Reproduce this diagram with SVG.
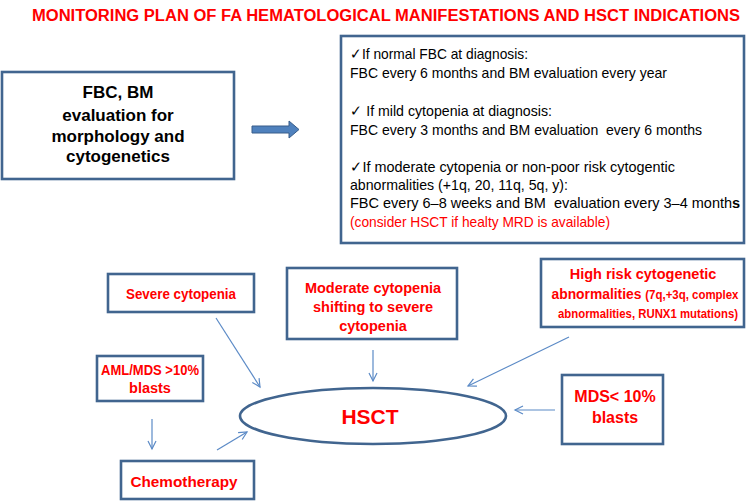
<svg xmlns="http://www.w3.org/2000/svg" width="750" height="501" viewBox="0 0 750 501">
<defs>
<marker id="ah" markerUnits="userSpaceOnUse" markerWidth="12" markerHeight="12" refX="9" refY="5" orient="auto">
<path d="M1,1 L9,5 L1,9" fill="none" stroke="#5b8ac6" stroke-width="1.2"/>
</marker>
</defs>
<style>
text{font-family:"Liberation Sans",Arial,sans-serif}
.box{fill:#fff;stroke:#41658f;stroke-width:2.6}
.red{fill:#ff0000;font-weight:bold}
.blk{fill:#000;font-weight:bold}
.body{fill:#000;font-size:15px}
.con{stroke:#5b8ac6;stroke-width:1.2;fill:none;marker-end:url(#ah)}
</style>
<rect width="750" height="501" fill="#fff"/>
<text x="32" y="21" class="red" font-size="16" textLength="708" lengthAdjust="spacingAndGlyphs">MONITORING PLAN OF FA HEMATOLOGICAL MANIFESTATIONS AND HSCT INDICATIONS</text>

<g id="n-eval">
<rect class="box" x="2" y="72" width="232" height="107"/>
<text class="blk" font-size="17" text-anchor="middle"><tspan x="118" y="98">FBC, BM</tspan><tspan x="118" y="121">evaluation for</tspan><tspan x="118" y="142">morphology and</tspan><tspan x="118" y="162">cytogenetics</tspan></text>
</g>

<g id="n-arrow">
<path d="M252,126 L289,126 L289,121 L299,129.5 L289,138 L289,133 L252,133 Z" fill="#4f81bd" stroke="#385d8a" stroke-width="1"/>
</g>

<g id="n-plan">
<rect class="box" x="341" y="36" width="403" height="207"/>
<text class="body" x="350" y="59" textLength="178" lengthAdjust="spacingAndGlyphs">✓If normal FBC at diagnosis:</text>
<text class="body" x="350" y="78" textLength="317" lengthAdjust="spacingAndGlyphs">FBC every 6 months and BM evaluation every year</text>
<text class="body" x="350" y="116" textLength="202" lengthAdjust="spacingAndGlyphs">✓ If mild cytopenia at diagnosis:</text>
<text class="body" x="350" y="135" textLength="352" lengthAdjust="spacingAndGlyphs" xml:space="preserve">FBC every 3 months and BM evaluation  every 6 months</text>
<text class="body" x="350" y="172" textLength="325" lengthAdjust="spacingAndGlyphs">✓If moderate cytopenia or non-poor risk cytogentic</text>
<text class="body" x="350" y="190" textLength="218" lengthAdjust="spacingAndGlyphs">abnormalities (+1q, 20, 11q, 5q, y):</text>
<text class="body" x="350" y="208" style="font-size:14.5px" xml:space="preserve">FBC every 6–8 weeks and BM  evaluation every 3–4 month<tspan font-weight="bold">s</tspan></text>
<text class="body" x="350" y="227" style="fill:#ff0000" textLength="260" lengthAdjust="spacingAndGlyphs">(consider HSCT if healty MRD is available)</text>
</g>

<g id="n-severe">
<rect class="box" x="108" y="274" width="146" height="38"/>
<text class="red" font-size="14.5" x="181" y="299" text-anchor="middle" textLength="110" lengthAdjust="spacingAndGlyphs">Severe cytopenia</text>
</g>

<g id="n-moderate">
<rect class="box" x="287" y="268" width="170" height="71"/>
<text class="red" font-size="14.5" text-anchor="middle"><tspan x="373" y="293">Moderate cytopenia</tspan><tspan x="373" y="312">shifting to severe</tspan><tspan x="373" y="331">cytopenia</tspan></text>
</g>

<g id="n-highrisk">
<rect class="box" x="541" y="259" width="203" height="68"/>
<text class="red" font-size="14.5" x="643" y="279" text-anchor="middle">High risk cytogenetic</text>
<text class="red" font-size="14.5" x="645" y="299" text-anchor="middle" textLength="187" lengthAdjust="spacingAndGlyphs">abnormalities <tspan font-size="12">(7q,+3q, complex</tspan></text>
<text class="red" font-size="12" x="648" y="318" text-anchor="middle" textLength="180" lengthAdjust="spacingAndGlyphs">abnormalities, RUNX1 mutations)</text>
</g>

<g id="n-aml">
<rect class="box" x="97" y="356" width="106" height="45"/>
<text class="red" font-size="14.5" text-anchor="middle"><tspan x="150" y="375" textLength="98" lengthAdjust="spacingAndGlyphs">AML/MDS &gt;10%</tspan><tspan x="150" y="393">blasts</tspan></text>
</g>

<g id="n-chemo">
<rect class="box" x="121" y="461" width="133" height="38"/>
<text class="red" font-size="15.5" x="184" y="487" text-anchor="middle" textLength="107" lengthAdjust="spacingAndGlyphs">Chemotherapy</text>
</g>

<g id="n-mds">
<rect class="box" x="562" y="375" width="101" height="69"/>
<text class="red" font-size="16" text-anchor="middle"><tspan x="615" y="402">MDS&lt; 10%</tspan><tspan x="615" y="423">blasts</tspan></text>
</g>

<g id="n-hsct">
<ellipse cx="373" cy="416" rx="133" ry="28" fill="#fff" stroke="#41658f" stroke-width="2.6"/>
<text class="red" font-size="21" x="370" y="424" text-anchor="middle">HSCT</text>
</g>

<g id="connectors">
<line class="con" x1="216" y1="318" x2="260" y2="387"/>
<line class="con" x1="373" y1="350" x2="373" y2="381"/>
<line class="con" x1="569" y1="337" x2="468" y2="386"/>
<line class="con" x1="555" y1="410" x2="515" y2="410"/>
<line class="con" x1="152" y1="419" x2="152" y2="449"/>
<line class="con" x1="217" y1="450" x2="247" y2="432"/>
</g>
</svg>
